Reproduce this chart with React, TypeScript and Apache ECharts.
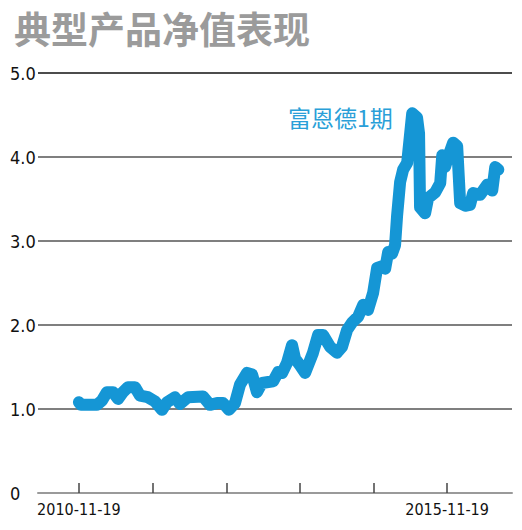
import React, { useEffect, useRef } from "react";
import * as echarts from "echarts";

const titleText = "典型产品净值表现";
const seriesName = "富恩德1期";

const dates = [
  "2010-11-19", "2010-11-29", "2011-02-16", "2011-03-13", "2011-04-07", "2011-05-07",
  "2011-06-01", "2011-06-25", "2011-07-20", "2011-08-24", "2011-09-18", "2011-10-27",
  "2011-12-01", "2012-01-05", "2012-01-30", "2012-03-09", "2012-04-03", "2012-05-13",
  "2012-07-26", "2012-08-30", "2012-10-04", "2012-11-03", "2012-12-02", "2013-01-01",
  "2013-01-26", "2013-03-02", "2013-03-27", "2013-04-20", "2013-05-15", "2013-07-09",
  "2013-08-03", "2013-08-23", "2013-09-16", "2013-10-11", "2013-10-26", "2013-11-20",
  "2013-12-15", "2014-01-23", "2014-02-17", "2014-03-14", "2014-04-18", "2014-05-22",
  "2014-06-16", "2014-07-11", "2014-08-05", "2014-09-04", "2014-09-29", "2014-10-23",
  "2014-11-17", "2014-12-07", "2015-01-01", "2015-01-16", "2015-01-31", "2015-02-19",
  "2015-03-06", "2015-03-16", "2015-03-31", "2015-04-15", "2015-05-05", "2015-05-30",
  "2015-06-23", "2015-07-03", "2015-07-08", "2015-08-02", "2015-08-17", "2015-09-21",
  "2015-10-16", "2015-10-26", "2015-11-09", "2015-11-24", "2015-12-19", "2016-01-08",
  "2016-01-23", "2016-02-17", "2016-03-12", "2016-03-27", "2016-05-01", "2016-06-05",
  "2016-06-30", "2016-07-15", "2016-07-30",
];

const navValues = [
  1.08, 1.05, 1.05, 1.10, 1.20, 1.20,
  1.12, 1.20, 1.26, 1.26, 1.16, 1.14,
  1.09, 0.99, 1.08, 1.14, 1.06, 1.14,
  1.15, 1.05, 1.07, 1.07, 0.99, 1.07,
  1.29, 1.43, 1.41, 1.20, 1.31, 1.33,
  1.44, 1.43, 1.55, 1.76, 1.60, 1.52,
  1.43, 1.67, 1.88, 1.88, 1.74, 1.67,
  1.74, 1.94, 2.03, 2.10, 2.24, 2.18,
  2.38, 2.68, 2.70, 2.67, 2.87, 2.85,
  2.95, 3.30, 3.70, 3.85, 3.93, 4.52,
  4.47, 4.28, 3.40, 3.33, 3.51, 3.58,
  3.69, 4.02, 3.88, 4.00, 4.17, 4.13,
  3.45, 3.42, 3.43, 3.57, 3.55, 3.67,
  3.60, 3.88, 3.85,
];

const tickDates = ["2010-11-19", "2011-11-19", "2012-11-19", "2013-11-19", "2014-11-19", "2015-11-19"];
const labelDates = ["2010-11-19", "2015-11-19"];
const axisStart = "2010-04-30";
const axisEnd = "2016-10-06";

const yMin = 0;
const yMax = 5;
const yInterval = 1;

function toTime(s: string): number {
  const [y, m, d] = s.split("-").map(Number);
  return Date.UTC(y, m - 1, d);
}

function pad(n: number): string {
  return n < 10 ? "0" + n : String(n);
}

export default function App() {
  const ref = useRef<HTMLDivElement>(null);

  useEffect(() => {
    document.body.style.margin = "0";
    if (!ref.current) return;
    const chart = echarts.init(ref.current, undefined, { renderer: "svg" });
    const axisFont = "'Liberation Sans Narrow', 'DejaVu Sans Condensed', 'Liberation Sans', sans-serif";
    chart.setOption({
      animation: false,
      backgroundColor: "#ffffff",
      title: {
        text: titleText,
        left: 9,
        top: 4,
        textStyle: {
          color: "#9b9b9b",
          fontSize: 37,
          fontWeight: "bold",
          fontFamily: "'Noto Sans CJK SC', sans-serif",
        },
      },
      graphic: [
        {
          type: "text",
          left: 288,
          top: 105,
          style: {
            text: seriesName,
            fill: "#2a9fd8",
            fontSize: 23,
            fontFamily: "'Noto Sans CJK SC', sans-serif",
          },
        },
      ],
      grid: { left: 38, right: 10, top: 73, bottom: 37 },
      xAxis: {
        type: "value",
        min: toTime(axisStart),
        max: toTime(axisEnd),
        axisLine: { show: true, onZero: false, lineStyle: { color: "#9a9a9a", width: 2 } },
        axisTick: {
          show: true,
          inside: true,
          length: 10,
          customValues: tickDates.map(toTime),
          lineStyle: { color: "#444444", width: 1.5 },
        },
        axisLabel: {
          customValues: labelDates.map(toTime),
          margin: 8,
          color: "#111111",
          fontSize: 16,
          fontFamily: axisFont,
          formatter: (v: number) => {
            const d = new Date(v);
            return d.getUTCFullYear() + "-" + pad(d.getUTCMonth() + 1) + "-" + pad(d.getUTCDate());
          },
        },
        splitLine: { show: false },
        minorTick: { show: false },
      },
      yAxis: {
        type: "value",
        min: yMin,
        max: yMax,
        interval: yInterval,
        axisLine: { show: false },
        axisTick: { show: false },
        axisLabel: {
          align: "left",
          margin: 28,
          color: "#111111",
          fontSize: 18,
          fontFamily: axisFont,
          formatter: (v: number) => (v === 0 ? "0" : v.toFixed(1)),
        },
        splitLine: {
          show: true,
          lineStyle: {
            color: ["#9a9a9a", "#555555", "#555555", "#555555", "#555555", "#111111"],
            width: 1.5,
          },
        },
      },
      series: [
        {
          name: seriesName,
          type: "line",
          data: dates.map((d, i) => [toTime(d), navValues[i]]),
          showSymbol: false,
          lineStyle: { color: "#1596d5", width: 12, cap: "round", join: "round" },
          z: 3,
        },
      ],
    });
    return () => chart.dispose();
  }, []);

  return <div ref={ref} style={{ width: 522, height: 530 }} />;
}
